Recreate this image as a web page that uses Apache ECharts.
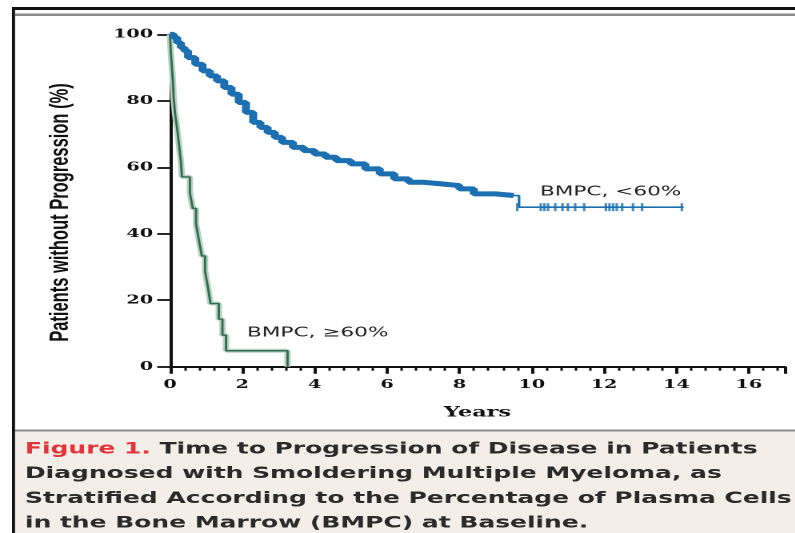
<!DOCTYPE html>
<html>
<head>
<meta charset="utf-8">
<script src="https://cdn.jsdelivr.net/npm/echarts@6/dist/echarts.min.js"></script>
<style>
html,body{margin:0;padding:0;background:#fff;overflow:hidden;width:795px;height:533px;}
#main{width:497px;height:533px;transform:scaleX(1.6);transform-origin:0 0;}
</style>
</head>
<body>
<div id="main"></div>
<script>
// ---- data ----
const xTicks = [0, 2, 4, 6, 8, 10, 12, 14, 16];
const yTicks = [0, 20, 40, 60, 80, 100];

const blueYears = [0, 0.1, 0.2, 0.3, 0.4, 0.5, 0.7, 0.9, 1.1, 1.3, 1.5, 1.7, 1.9, 2.1, 2.3, 2.5, 2.7, 2.9, 3.1, 3.4, 3.7, 4.0, 4.3, 4.6, 5.0, 5.4, 5.8, 6.2, 6.6, 7.0, 7.5, 8.0, 8.4, 9.0, 9.5];
const bluePct   = [100, 99, 97.5, 96, 95, 93, 91, 89, 87.5, 86, 84, 82, 79.5, 76.5, 73.5, 72, 70.5, 69, 67.5, 66, 65, 64, 63, 62, 61, 59.5, 58, 56.5, 55.5, 55, 54.5, 53.5, 52, 51.5, 51.5];
const blueTailYears = [9.5, 9.65, 14.2];
const blueTailPct   = [51.5, 48, 48];
const blueCensorYears = [9.6, 10.25, 10.35, 10.45, 10.65, 10.85, 11.0, 11.2, 11.45, 12.05, 12.15, 12.25, 12.35, 12.5, 12.8, 13.05, 14.15];
const blueCensorPct = 48;

const greenYears = [0, 0.02, 0.05, 0.08, 0.1, 0.14, 0.2, 0.25, 0.3, 0.33, 0.55, 0.63, 0.72, 0.8, 0.88, 0.97, 1.05, 1.12, 1.35, 1.45, 1.55, 3.25];
const greenPct   = [100, 95.2, 90.5, 85.7, 81, 76.2, 71.4, 66.7, 61.9, 57.1, 52.4, 47.6, 42.9, 38.1, 33.3, 28.6, 23.8, 19, 14.3, 9.5, 4.8, 0];

const labelLow = 'BMPC, <60%';
const labelHigh = 'BMPC, \u226560%';
const yTitle = 'Patients without Progression (%)';
const xTitle = 'Years';
const captionLines = [
  '{r|Figure 1.} Time to Progression of Disease in Patients',
  'Diagnosed with Smoldering Multiple Myeloma, as',
  'Stratified According to the Percentage of Plasma Cells',
  'in the Bone Marrow (BMPC) at Baseline.'
];

const zip = (xs, ys) => xs.map((x, i) => [x, Array.isArray(ys) ? ys[i] : ys]);

const chart = echarts.init(document.getElementById('main'), null, {devicePixelRatio: 2});
const tickFont = {fontFamily: 'DejaVu Serif', fontWeight: 'bold', fontSize: 12, color: '#111'};
const capFont = {fontFamily: 'DejaVu Sans', fontWeight: 'bold', fontSize: 15.6, lineHeight: 24.7};

chart.setOption({
  animation: false,
  backgroundColor: '#fff',
  grid: {left: 106.25, right: 6.4, top: 34.3, bottom: 166.3},
  xAxis: {
    type: 'value', min: 0, max: 17, interval: 2,
    axisLine: {lineStyle: {color: '#111', width: 2}},
    axisTick: {show: true, length: 7, lineStyle: {color: '#111', width: 2}},
    minorTick: {show: true, splitNumber: 5, length: 4, lineStyle: {color: '#111', width: 1.5}},
    splitLine: {show: false},
    axisLabel: Object.assign({margin: 12, showMaxLabel: false,
      formatter: v => xTicks.includes(v) ? String(v) : ''}, tickFont),
    name: xTitle, nameLocation: 'middle', nameGap: 39,
    nameTextStyle: {fontFamily: 'DejaVu Serif', fontWeight: 'bold', fontSize: 14, color: '#111'}
  },
  yAxis: {
    type: 'value', min: 0, max: 100, interval: 20,
    axisLine: {show: true, lineStyle: {color: '#111', width: 2}},
    axisTick: {show: true, length: 8, lineStyle: {color: '#111', width: 1.8}},
    splitLine: {show: false},
    axisLabel: Object.assign({margin: 10.5,
      formatter: v => yTicks.includes(v) ? String(v) : ''}, tickFont),
    name: yTitle, nameLocation: 'middle', nameGap: 60, nameRotate: 90,
    nameTextStyle: {fontFamily: 'Liberation Sans, Arial, sans-serif', fontWeight: 'bold', fontSize: 16.5, color: '#111',
      padding: [0, 24, 0, 0]}
  },
  series: [
    {type: 'line', step: 'end', data: zip(greenYears, greenPct), symbol: 'none',
     lineStyle: {color: '#b9d1c3', width: 4}, z: 2},
    {type: 'line', step: 'end', data: zip(greenYears, greenPct), symbol: 'none',
     lineStyle: {color: '#2f6b50', width: 1.4}, z: 3},
    {type: 'line', step: 'end', data: zip(blueYears, bluePct), symbol: 'none',
     lineStyle: {color: '#1c6fb0', width: 5}, z: 4},
    {type: 'line', step: 'end', data: zip(blueTailYears, blueTailPct), symbol: 'none',
     lineStyle: {color: '#1c6fb0', width: 1.6}, z: 4},
    {type: 'scatter', data: zip(blueCensorYears, blueCensorPct), symbol: 'rect', symbolSize: [1.6, 8],
     itemStyle: {color: '#1c6fb0'}, z: 5}
  ],
  graphic: [
    {type: 'rect', shape: {x: 9.4, y: 431, width: 490, height: 102}, style: {fill: '#f3eee8'}, z: -1},
    {type: 'rect', shape: {x: 9.4, y: 429.5, width: 490, height: 2}, style: {fill: '#8c8c8c'}},
    {type: 'rect', shape: {x: 7.5, y: 7, width: 1.9, height: 526}, style: {fill: '#111'}},
    {type: 'rect', shape: {x: 7.5, y: 7, width: 490, height: 3}, style: {fill: '#111'}},
    {type: 'rect', shape: {x: 9.4, y: 13.5, width: 490, height: 2.5}, style: {fill: '#8a8a8a'}},
    {type: 'text', x: 337.5, y: 192, style: {text: labelLow, fill: '#222', fontFamily: 'DejaVu Sans', fontSize: 13.5, verticalAlign: 'middle'}},
    {type: 'text', x: 154.4, y: 333, style: {text: labelHigh, fill: '#222', fontFamily: 'DejaVu Sans', fontSize: 13.5, verticalAlign: 'middle'}},
    {type: 'text', x: 15.6, y: 437, style: Object.assign({
      text: captionLines.join('\n'), fill: '#2a2a2a',
      rich: {r: Object.assign({fill: '#e3343c'}, capFont)}
    }, capFont)}
  ]
});
</script>
</body>
</html>
